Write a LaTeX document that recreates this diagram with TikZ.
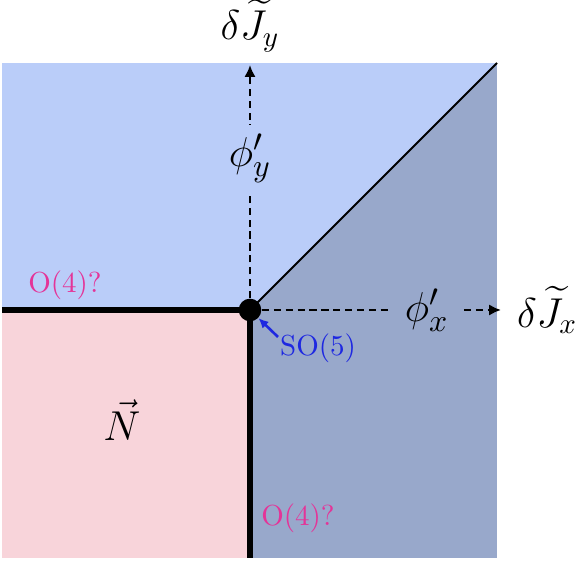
\documentclass[tikz,border=0pt]{standalone}
\usepackage{amsmath}
\usepackage{amssymb}
\usepackage{xcolor}
\usepackage{tikz}
\usetikzlibrary{
	arrows.meta,
	calc,
	positioning
}
\definecolor{PaleBlue}{RGB}{186,205,249}
\definecolor{SlateBlue}{RGB}{152,168,203}
\definecolor{PalePink}{RGB}{248,212,218}
\definecolor{HotPink}{RGB}{228,52,152}
\definecolor{DeepBlue}{RGB}{30,40,225}

\tikzset{
	axisdash/.style={line width=1pt, dash pattern=on 2.5pt off 1.6pt, -{Latex[length=4.1pt,width=3.9pt]}},
	phaseline/.style={line width=2.1pt},
	grouplabel/.style={text=HotPink, inner sep=0pt},
	fieldlabel/.style={inner xsep=5pt, inner ysep=3pt, font=\fontsize{15.5}{18}\selectfont}
}

\begin{document}
\begin{tikzpicture}[x=0.345pt, y=0.345pt]
		\useasboundingbox (-250,-251) rectangle (331,310);
		% phase regions
		\fill[PaleBlue] (-248,0) rectangle (247,247);
		\fill[SlateBlue] (0,-248) -- (0,0) -- (247,247) -- (247,-248) -- cycle;
		\fill[PalePink] (-248,-248) rectangle (0,0);
		
		\coordinate (W) at (-248,0);
		\coordinate (S) at (0,-248);
		\coordinate (NE) at (247,247);
		\coordinate (Ytip) at (0,245);
		\coordinate (Xtip) at (251,0);
		
		\node[circle, fill=black, inner sep=0pt, minimum size=7.8pt] (O) at (0,0) {};
		
		\draw[line width=0.7pt] (O.center) -- (NE);
		\draw[axisdash] (O) -- node[pos=0.6, fill=PaleBlue, fieldlabel] (phiy) {$\phi'_y$} (Ytip);
		\draw[axisdash] (O) -- node[pos=0.69, fill=SlateBlue, fieldlabel] (phix) {$\phi'_x$} (Xtip);
		\draw[phaseline] (W) -- (O.center);
		\draw[phaseline] (O.center) -- (S);
		
		\node[above=1pt of Ytip] (Jy) {\Large $\delta\widetilde{J}_y$};
		\node[right=2pt of Xtip] (Jx) {\Large $\delta\widetilde{J}_x$};
		\node (Nvec) at (-128,-110) {\Large $\vec{N}$};
		
		\node[grouplabel] (o4a) at (-185,25) {O(4)?};
		\node[grouplabel] (o4b) at (48,-208) {O(4)?};
		\node[text=DeepBlue, inner sep=0pt] (so5) at (68,-38) {SO(5)};
		\coordinate (sotail) at (28,-27);
		\draw[DeepBlue, line width=0.9pt, -{Latex[length=3.4pt,width=3.2pt]}] (sotail) -- (O);
	\end{tikzpicture}
\end{document}
